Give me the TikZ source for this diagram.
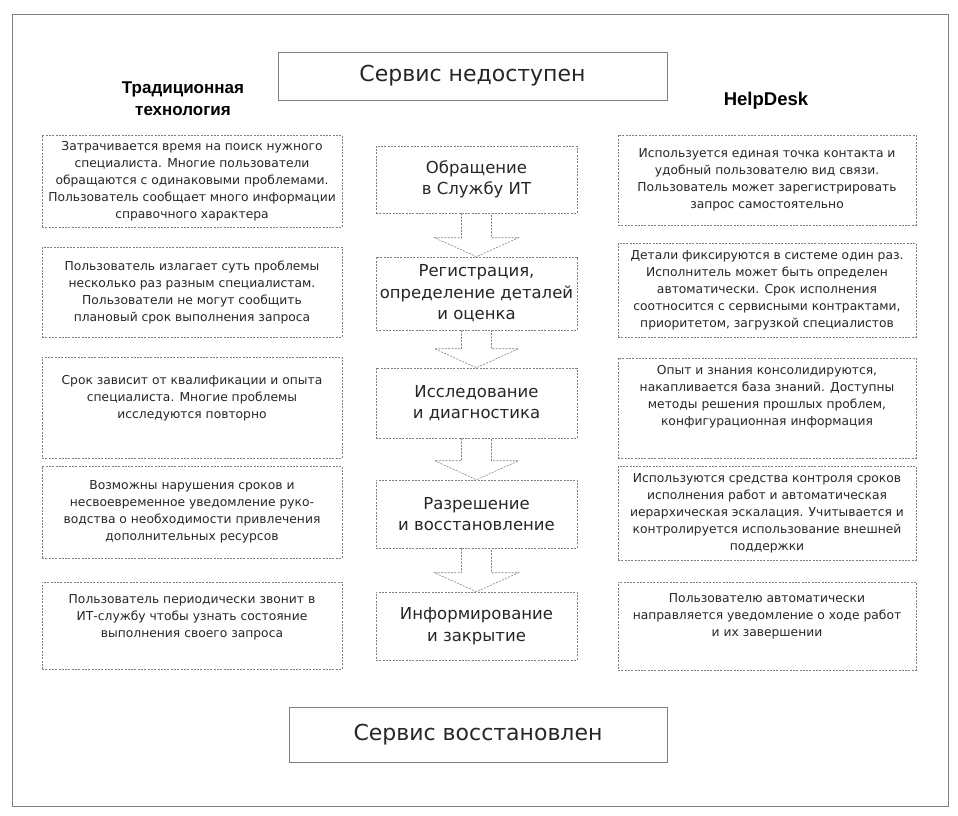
\documentclass[tikz,border=0pt]{standalone}
\usepackage{fontspec}
\setmainfont{DejaVu Sans}
\newfontfamily\hdfont{Liberation Sans}
\usetikzlibrary{calc}
\begin{document}
\begin{tikzpicture}[x=1pt,y=-1pt,
  frame/.style={draw=black!50, line width=0.8pt},
  sbox/.style={draw=black!50, line width=0.6pt, inner sep=0pt, align=center,
    font=\fontsize{22}{26}\selectfont, text=black!85},
  dsh/.style={draw=black!50, dash pattern=on 2pt off 1.3pt, line width=0.6pt},
  sidebox/.style={dsh, minimum width=300pt, inner sep=0pt, align=center,
    font=\fontsize{12.3}{17}\selectfont, text=black!85},
  stage/.style={dsh, minimum width=201pt, inner sep=0pt, align=center,
    font=\fontsize{16.5}{21.5}\selectfont, text=black!85},
  head/.style={align=center, font=\hdfont\bfseries\fontsize{17}{22}\selectfont, text=black}
]
\useasboundingbox (0,0) rectangle (958,815);
\draw[frame] (12,14) rectangle (948,806);

\node[sbox, minimum width=389pt, minimum height=48pt] (top) at (472.5,76) {Сервис недоступен};
\node[sbox, minimum width=378pt, minimum height=55pt] (bot) at (478,734.5) {Сервис восстановлен};

\node[head] (htrad) at (183,99) {Традиционная\\технология};
\node[head, font=\hdfont\bfseries\fontsize{18.5}{22}\selectfont] (hhd) at (766,101) {HelpDesk};

% left column
\node[sidebox, minimum height=92pt] (l1) at (192,181) {Затрачивается время на поиск нужного\\специалиста. Многие пользователи\\обращаются с одинаковыми проблемами.\\Пользователь сообщает много информации\\справочного характера};
\node[sidebox, minimum height=90pt] (l2) at (192,292) {Пользователь излагает суть проблемы\\несколько раз разным специалистам.\\Пользователи не могут сообщить\\плановый срок выполнения запроса};
\node[sidebox, minimum height=101pt] (l3) at (192,407.5) {Срок зависит от квалификации и опыта\\специалиста. Многие проблемы\\исследуются повторно\\[4pt]};
\node[sidebox, minimum height=92pt] (l4) at (192,512) {Возможны нарушения сроков и\\несвоевременное уведомление руко-\\водства о необходимости привлечения\\дополнительных ресурсов};
\node[sidebox, minimum height=87pt] (l5) at (192,625.5) {Пользователь периодически звонит в\\ИТ-службу чтобы узнать состояние\\выполнения своего запроса\\[2pt]};

% right column
\node[sidebox, minimum width=298pt, minimum height=90pt] (r1) at (767,180) {Используется единая точка контакта и\\удобный пользователю вид связи.\\Пользователь может зарегистрировать\\запрос самостоятельно};
\node[sidebox, minimum width=298pt, minimum height=94pt] (r2) at (767,290) {Детали фиксируются в системе один раз.\\Исполнитель может быть определен\\автоматически. Срок исполнения\\соотносится с сервисными контрактами,\\приоритетом, загрузкой специалистов};
\node[sidebox, minimum width=298pt, minimum height=100pt] (r3) at (767,408) {Опыт и знания консолидируются,\\накапливается база знаний. Доступны\\методы решения прошлых проблем,\\конфигурационная информация\\[8pt]};
\node[sidebox, minimum width=298pt, minimum height=94pt] (r4) at (767,513) {Используются средства контроля сроков\\исполнения работ и автоматическая\\иерархическая эскалация. Учитывается и\\контролируется использование внешней\\поддержки};
\node[sidebox, minimum width=298pt, minimum height=88pt] (r5) at (767,626) {Пользователю автоматически\\направляется уведомление о ходе работ\\и их завершении\\[4pt]};

% center stages
\node[stage, minimum height=67pt] (c1) at (476.5,179.5) {Обращение\\в Службу ИТ};
\node[stage, minimum height=73pt] (c2) at (476.5,293.5) {Регистрация,\\определение деталей\\и оценка};
\node[stage, minimum height=70pt] (c3) at (476.5,403) {Исследование\\и диагностика};
\node[stage, minimum height=68pt] (c4) at (476.5,514) {Разрешение\\и восстановление};
\node[stage, minimum height=68pt] (c5) at (476.5,626) {Информирование\\и закрытие};

% hollow block arrows
\foreach \a/\b in {c1/c2,c2/c3,c3/c4,c4/c5}{
  \draw[dsh] ($(\a.south)+(-15,0)$) |- ($(\b.north)+(-42,-19)$) -- (\b.north)
     -- ($(\b.north)+(42,-19)$) -| ($(\a.south)+(15,0)$);
}
\end{tikzpicture}
\end{document}
